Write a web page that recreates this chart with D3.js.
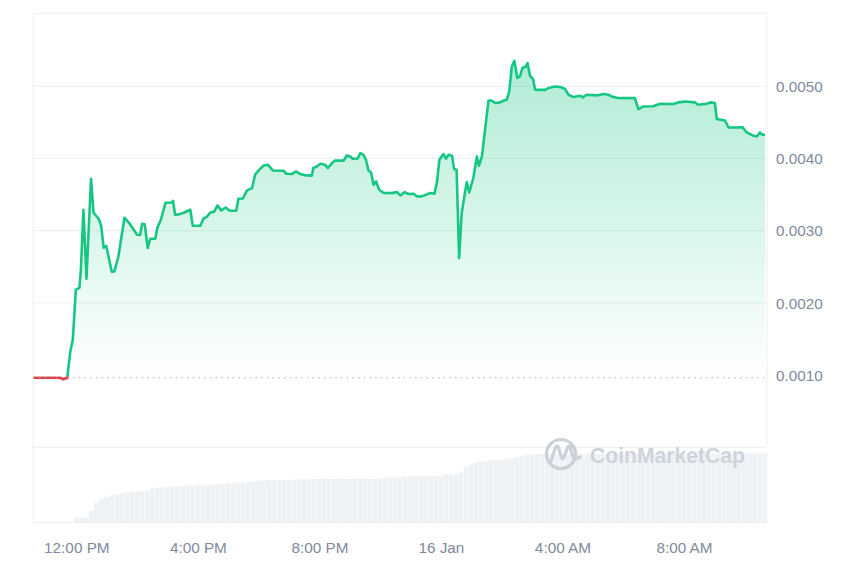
<!DOCTYPE html>
<html><head><meta charset="utf-8">
<script src="https://cdn.jsdelivr.net/npm/d3@7"></script>
<style>
body{margin:0;background:#fff}
svg{display:block}
text{font-family:"Liberation Sans",Arial,Helvetica,sans-serif}
</style>
</head><body>
<svg id="chart" width="860" height="573"></svg>
<script>
// ---------- data ----------
const domainTimes = ["15 10:35", "16 10:44"];
const openPrice = 0.000963;
const priceTimes = [
"15 10:35","15 11:28","15 11:34","15 11:40","15 11:42","15 11:48","15 11:53","15 11:59","15 12:06","15 12:09",
"15 12:14","15 12:20","15 12:29","15 12:34","15 12:44","15 12:49","15 12:54","15 12:59","15 13:10","15 13:15",
"15 13:23","15 13:35","15 13:44","15 14:00","15 14:06","15 14:10","15 14:15","15 14:21","15 14:26","15 14:36",
"15 14:40","15 14:47","15 14:56","15 15:09","15 15:11","15 15:15","15 15:22","15 15:32","15 15:45","15 15:50",
"15 16:05","15 16:11","15 16:18","15 16:24","15 16:32","15 16:39","15 16:46","15 16:55","15 17:03","15 17:16",
"15 17:20","15 17:29","15 17:37","15 17:47","15 17:53","15 18:00","15 18:10","15 18:18","15 18:28","15 18:49",
"15 18:55","15 19:06","15 19:14","15 19:22","15 19:34","15 19:45","15 19:48","15 19:55","15 20:02","15 20:11",
"15 20:17","15 20:25","15 20:31","15 20:48","15 20:54","15 21:01","15 21:06","15 21:15","15 21:21","15 21:27",
"15 21:32","15 21:37","15 21:42","15 21:47","15 21:52","15 21:58","15 22:07","15 22:23","15 22:33","15 22:40",
"15 22:48","15 22:56","15 23:06","15 23:13","15 23:22","15 23:39","15 23:47","15 23:52","15 23:57","16 00:05",
"16 00:10","16 00:15","16 00:22","16 00:26","16 00:31","16 00:36","16 00:41","16 00:51","16 00:56","16 01:04",
"16 01:11","16 01:15","16 01:21","16 01:34","16 01:41","16 01:47","16 01:57","16 02:03","16 02:10","16 02:15",
"16 02:20","16 02:25","16 02:31","16 02:36","16 02:41","16 02:48","16 02:51","16 02:56","16 03:02","16 03:06",
"16 03:26","16 03:32","16 03:46","16 03:56","16 04:05","16 04:12","16 04:22","16 04:35","16 04:40","16 04:48",
"16 05:08","16 05:20","16 05:31","16 05:37","16 05:50","16 06:23","16 06:30","16 06:40","16 06:59","16 07:13",
"16 07:39","16 07:49","16 08:02","16 08:22","16 08:28","16 08:45","16 08:52","16 09:01","16 09:05","16 09:21",
"16 09:28","16 09:56","16 10:04","16 10:17","16 10:24","16 10:30","16 10:34","16 10:40"
];
const priceValues = [
0.000963,0.000963,0.000942,0.000956,0.000963,0.001323,0.001489,0.002182,0.002209,0.002459,
0.003290,0.002334,0.003719,0.003248,0.003165,0.003068,0.002763,0.002791,0.002431,0.002435,
0.002639,0.003179,0.003109,0.002943,0.002940,0.003096,0.003090,0.002760,0.002888,0.002890,
0.003040,0.003151,0.003386,0.003390,0.003414,0.003220,0.003225,0.003248,0.003290,0.003068,
0.003070,0.003165,0.003193,0.003248,0.003262,0.003349,0.003280,0.003321,0.003276,0.003278,
0.003442,0.003445,0.003557,0.003590,0.003774,0.003834,0.003903,0.003913,0.003834,0.003830,
0.003788,0.003785,0.003820,0.003784,0.003765,0.003762,0.003867,0.003889,0.003927,0.003913,
0.003867,0.003936,0.003972,0.003970,0.004042,0.004028,0.003996,0.003995,0.004075,0.004051,
0.003982,0.003834,0.003806,0.003636,0.003681,0.003567,0.003521,0.003520,0.003535,0.003488,
0.003533,0.003507,0.003511,0.003474,0.003475,0.003521,0.003512,0.003659,0.003982,0.004061,
0.003996,0.004051,0.004037,0.003853,0.003844,0.002621,0.003244,0.003673,0.003529,0.003729,
0.004028,0.003899,0.004030,0.004803,0.004800,0.004767,0.004776,0.004799,0.004813,0.004928,
0.005274,0.005353,0.005114,0.005136,0.005252,0.005274,0.005321,0.005145,0.005100,0.004952,
0.004950,0.004975,0.004997,0.004989,0.004961,0.004882,0.004850,0.004868,0.004845,0.004882,
0.004873,0.004892,0.004882,0.004859,0.004837,0.004835,0.004684,0.004720,0.004722,0.004758,
0.004754,0.004776,0.004789,0.004776,0.004744,0.004758,0.004776,0.004767,0.004546,0.004526,
0.004429,0.004430,0.004360,0.004314,0.004305,0.004360,0.004328,0.004330
];
// volume bars, one per 10 minutes from the first time (values in $K)
const volumeStepMinutes = 10;
const volumeValues = [
0,0,0,0,0,0,0,0,5,5,
5,12,20,23.5,25.5,27,28,29,30,31,
31,31.5,32,34,35,35,35,35.5,36,36.5,
37,37,37.5,37.5,38,38,38.5,39,39,39.5,
40,40,40.5,41,41.5,42,42.5,42.5,42.5,42.5,
42.5,43,43,43,43.5,43.5,43.5,43.5,43.5,43.5,
43.5,43.5,43.5,43.5,43.5,43.5,43.5,43.5,43.5,45,
45,45,45,46.5,46.5,46.5,46.5,46.5,46.5,46.5,
46.5,48,48,48.5,50,56,58,59.5,60.5,61,
62,62.5,63,63.5,64.5,65.5,66.5,67.5,68,68.5,
68.5,68.5,68.5,68.5,68.5,68.5,68.5,68.5,68.5,68.5,
68.5,68.5,68.5,68.5,68.5,68.5,68.5,68.5,68.5,68.5,
68.5,68.5,69,69,69,69,69,69,69,69,
69,69,69,69,69,69,69,69,69,69,
69,69,69,69,69
];
const priceTicks = [0.001, 0.002, 0.003, 0.004, 0.005];
const gridValues = [0, 0.002, 0.003, 0.004, 0.005];
const timeTicks = ["15 12:00","15 16:00","15 20:00","16 00:00","16 04:00","16 08:00"];

// ---------- setup ----------
const parse = s => d3.timeParse("%Y-%m-%d %H:%M")("2024-01-" + s);
const GREEN = "#16c784", RED = "#ea3943", GRID = "#eceef1", LABEL = "#808a9d";
const L = 33.3, R = 767, T = 13.3, PB = 447.3, B = 522.5;

const svg = d3.select("#chart");
const defs = svg.append("defs");

const x = d3.scaleTime().domain(domainTimes.map(parse)).range([L, R]);
const y = d3.scaleLinear().domain([0, 0.00601]).range([PB, T]);
const yv = d3.scaleLinear().domain([0, 75]).range([B, PB]);

const prices = priceTimes.map((t, i) => ({t: parse(t), v: priceValues[i]}));
const t0 = parse(domainTimes[0]);
const vols = volumeValues.map((v, i) => ({t: d3.timeMinute.offset(t0, i * volumeStepMinutes), v}));
const baseY = y(openPrice);

// clips
defs.append("clipPath").attr("id", "plot").append("rect")
  .attr("x", L).attr("y", T).attr("width", R - L).attr("height", B - T);
defs.append("clipPath").attr("id", "above").append("rect")
  .attr("x", L).attr("y", T - 10).attr("width", R - L).attr("height", baseY - 1.6 - (T - 10));
defs.append("clipPath").attr("id", "below").append("rect")
  .attr("x", L).attr("y", baseY - 1.6).attr("width", R - L).attr("height", B - baseY);

const gGreen = defs.append("linearGradient").attr("id", "gfill")
  .attr("gradientUnits", "userSpaceOnUse").attr("x1", 0).attr("x2", 0)
  .attr("y1", y(d3.max(priceValues))).attr("y2", baseY);
gGreen.append("stop").attr("offset", 0).attr("stop-color", GREEN).attr("stop-opacity", 0.34);
gGreen.append("stop").attr("offset", 1).attr("stop-color", GREEN).attr("stop-opacity", 0.0);

// frame + grid
const grid = svg.append("g");
grid.selectAll("line.h").data(gridValues).join("line")
  .attr("x1", L).attr("x2", R).attr("y1", d => y(d)).attr("y2", d => y(d))
  .attr("stroke", GRID).attr("stroke-width", 1);
grid.append("line").attr("x1", L).attr("x2", R).attr("y1", T).attr("y2", T).attr("stroke", GRID);
grid.append("line").attr("x1", L).attr("x2", L).attr("y1", T).attr("y2", B).attr("stroke", GRID);
grid.append("line").attr("x1", R).attr("x2", R).attr("y1", T).attr("y2", PB).attr("stroke", GRID);

// volume bars
const band = x(d3.timeMinute.offset(t0, volumeStepMinutes)) - x(t0);
svg.append("g").attr("clip-path", "url(#plot)")
  .selectAll("rect").data(vols.filter(d => d.v > 0)).join("rect")
  .attr("x", d => x(d.t)).attr("width", band - 0.35)
  .attr("y", d => yv(d.v)).attr("height", d => B - yv(d.v))
  .attr("fill", "#eff2f5");
svg.append("line").attr("x1", L).attr("x2", R).attr("y1", B).attr("y2", B).attr("stroke", GRID);

// watermark
const wm = svg.append("g").attr("opacity", 0.95);
wm.append("circle").attr("cx", 561).attr("cy", 454).attr("r", 14.5)
  .attr("fill", "none").attr("stroke", "#c9ced8").attr("stroke-width", 3.2);
wm.append("path")
  .attr("d", "M551,461 L555.5,447.5 Q557,444.5 558.5,447.5 L561.5,457.5 Q562.5,460 563.8,457.5 L567.5,447.5 Q569,444.5 570.3,447.5 L572.5,455.5 Q574,461 580,457")
  .attr("fill", "none").attr("stroke", "#c9ced8").attr("stroke-width", 3.2)
  .attr("stroke-linecap", "round").attr("stroke-linejoin", "round");
wm.append("text").attr("x", 590).attr("y", 463).text("CoinMarketCap")
  .attr("font-size", 21.5).attr("font-weight", 700).attr("fill", "#cdd2db")
  .attr("textLength", 155).attr("lengthAdjust", "spacingAndGlyphs");

// price area + line
const area = d3.area().x(d => x(d.t)).y0(baseY).y1(d => y(d.v));
const line = d3.line().x(d => x(d.t)).y(d => y(d.v));
svg.append("path").datum(prices).attr("d", area)
  .attr("fill", "url(#gfill)").attr("clip-path", "url(#above)");
svg.append("path").datum(prices).attr("d", line)
  .attr("fill", "none").attr("stroke", GREEN).attr("stroke-width", 2.6)
  .attr("stroke-linejoin", "round").attr("clip-path", "url(#above)");
svg.append("path").datum(prices).attr("d", line)
  .attr("fill", "none").attr("stroke", RED).attr("stroke-width", 2.6)
  .attr("stroke-linejoin", "round").attr("clip-path", "url(#below)");

// opening-price dotted baseline
svg.append("line").attr("x1", L).attr("x2", R).attr("y1", baseY).attr("y2", baseY)
  .attr("stroke", "#9aa1ad").attr("stroke-width", 1.2).attr("stroke-dasharray", "1.3,4.4");

// axes
const yAxis = d3.axisRight(y).tickValues(priceTicks).tickFormat(d3.format(".4f"))
  .tickSize(0).tickPadding(9);
const ya = svg.append("g").attr("transform", `translate(${R},0)`).call(yAxis);
ya.select(".domain").remove();
ya.selectAll("text").attr("fill", LABEL).attr("font-size", 15.3).attr("dy", "0.34em")
  .style("font-family", '"Liberation Sans", Arial, sans-serif');

const fmtTime = d => d.getHours() === 0 ? d3.timeFormat("%-d %b")(d) : d3.timeFormat("%-I:%M %p")(d);
const xAxis = d3.axisBottom(x).tickValues(timeTicks.map(parse)).tickFormat(fmtTime).tickSize(0);
const xa = svg.append("g").attr("transform", `translate(0,${B})`).call(xAxis);
xa.select(".domain").remove();
xa.selectAll("text").attr("fill", LABEL).attr("font-size", 15.3).attr("y", 25).attr("dy", "0.34em")
  .style("font-family", '"Liberation Sans", Arial, sans-serif');
</script>
</body></html>
